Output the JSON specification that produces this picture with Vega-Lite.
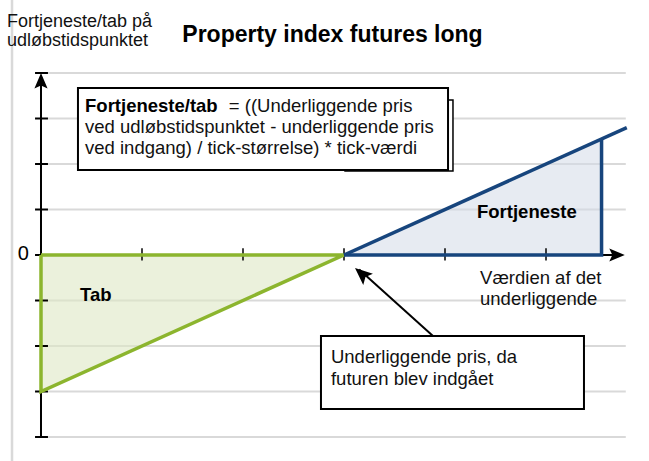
{
  "$schema": "https://vega.github.io/schema/vega-lite/v6.json",
  "width": 649,
  "height": 461,
  "padding": 0,
  "autosize": {"type": "none"},
  "background": "white",
  "config": {"view": {"stroke": null}, "text": {"font": "Liberation Sans"}},
  "datasets": {
    "border": [{"x": -0.287, "y": -4.6, "y2": 5.7}],
    "grid": [
      {"y": 4, "x": 0.07, "x2": 5.79}, {"y": 3, "x": 0.07, "x2": 5.79},
      {"y": 2, "x": 0.07, "x2": 5.79}, {"y": 1, "x": 0.07, "x2": 5.79},
      {"y": -1, "x": 0.07, "x2": 5.79}, {"y": -2, "x": 0.07, "x2": 5.79},
      {"y": -3, "x": 0.07, "x2": 5.79}, {"y": -4, "x": 0.07, "x2": 5.79}
    ],
    "loss": [{"x": 0, "y": -3, "y2": 0}, {"x": 3, "y": 0, "y2": 0}],
    "profit": [{"x": 3, "y": 0, "y2": 0}, {"x": 5.55, "y": 2.55, "y2": 0}],
    "axes": [
      {"x": 0, "x2": 0, "y": -4, "y2": 3.85},
      {"x": 0, "x2": 5.72, "y": 0, "y2": 0}
    ],
    "yticks": [
      {"y": 4, "x": -0.059, "x2": 0.069}, {"y": 3, "x": -0.059, "x2": 0.069},
      {"y": 2, "x": -0.059, "x2": 0.069}, {"y": 1, "x": -0.059, "x2": 0.069},
      {"y": 0, "x": -0.059, "x2": 0.0}, {"y": -1, "x": -0.059, "x2": 0.069},
      {"y": -2, "x": -0.059, "x2": 0.069}, {"y": -3, "x": -0.059, "x2": 0.069},
      {"y": -4, "x": -0.059, "x2": 0.069}
    ],
    "xticks": [
      {"x": 1, "y": -0.12, "y2": 0.15}, {"x": 2, "y": -0.12, "y2": 0.15},
      {"x": 3, "y": -0.12, "y2": 0.15}, {"x": 4, "y": -0.12, "y2": 0.15},
      {"x": 5, "y": -0.12, "y2": 0.15}
    ],
    "lossEdge": [
      {"o": 1, "x": 0, "y": 0}, {"o": 2, "x": 3, "y": 0},
      {"o": 3, "x": 0, "y": -3}, {"o": 4, "x": 0, "y": 0}
    ],
    "profitEdge": [
      {"seg": "a", "o": 1, "x": 3, "y": 0}, {"seg": "a", "o": 2, "x": 5.55, "y": 0},
      {"seg": "a", "o": 3, "x": 5.55, "y": 2.55},
      {"seg": "b", "o": 1, "x": 3, "y": 0}, {"seg": "b", "o": 2, "x": 5.8, "y": 2.8}
    ],
    "pointer": [{"x": 3.881, "y": -1.78, "x2": 3.15, "y2": -0.32}],
    "arrowUp": [{"x": 0, "y": 4}],
    "arrowRight": [{"x": 5.78, "y": 0}],
    "arrowPointer": [{"x": 3.109, "y": -0.286}],
    "backBox": [{"x": 3.01, "x2": 4.079, "y": 3.407, "y2": 1.846}],
    "formulaBox": [{"x": 0.366, "x2": 4.03, "y": 3.67, "y2": 1.868}],
    "calloutBox": [{"x": 2.772, "x2": 5.376, "y": -1.78, "y2": -3.385}],
    "title": [{"x": 2.886, "y": 4.681, "text": "Property index futures long"}],
    "ylabel": [
      {"x": -0.337, "y": 5.011, "text": "Fortjeneste/tab på"},
      {"x": -0.337, "y": 4.593, "text": "udløbstidspunktet"}
    ],
    "zero": [{"x": -0.119, "y": -0.11, "text": "0"}],
    "boldText": [
      {"x": 0.436, "y": 3.143, "text": "Fortjeneste/tab"},
      {"x": 0.386, "y": -1.011, "text": "Tab"},
      {"x": 4.317, "y": 0.813, "text": "Fortjeneste"}
    ],
    "bodyText": [
      {"x": 1.86, "y": 3.143, "text": "= ((Underliggende pris"},
      {"x": 0.436, "y": 2.681, "text": "ved udløbstidspunktet - underliggende pris"},
      {"x": 0.436, "y": 2.22, "text": "ved indgang) / tick-størrelse) * tick-værdi"},
      {"x": 4.347, "y": -0.64, "text": "Værdien af det"},
      {"x": 4.347, "y": -1.1, "text": "underliggende"},
      {"x": 2.871, "y": -2.374, "text": "Underliggende pris, da"},
      {"x": 2.871, "y": -2.857, "text": "futuren blev indgået"}
    ]
  },
  "encoding": {
    "x": {"field": "x", "type": "quantitative", "axis": null,
          "scale": {"domain": [-0.40594, 6.0198], "nice": false, "zero": false}},
    "y": {"field": "y", "type": "quantitative", "axis": null,
          "scale": {"domain": [-4.5275, 5.6044], "nice": false, "zero": false}}
  },
  "layer": [
    {"data": {"name": "border"}, "mark": {"type": "rule", "color": "#d9d9d9", "strokeWidth": 2.5},
     "encoding": {"y2": {"field": "y2"}}},
    {"data": {"name": "grid"}, "mark": {"type": "rule", "color": "#d9d9d9", "strokeWidth": 2},
     "encoding": {"x2": {"field": "x2"}}},
    {"data": {"name": "loss"}, "mark": {"type": "area", "color": "#dde8c4", "opacity": 0.6},
     "encoding": {"y2": {"field": "y2"}}},
    {"data": {"name": "profit"}, "mark": {"type": "area", "color": "#d3dbe8", "opacity": 0.55},
     "encoding": {"y2": {"field": "y2"}}},
    {"data": {"name": "axes"}, "mark": {"type": "rule", "color": "black", "strokeWidth": 2},
     "encoding": {"x2": {"field": "x2"}, "y2": {"field": "y2"}}},
    {"data": {"name": "yticks"}, "mark": {"type": "rule", "color": "black", "strokeWidth": 2},
     "encoding": {"x2": {"field": "x2"}}},
    {"data": {"name": "xticks"}, "mark": {"type": "rule", "color": "black", "strokeWidth": 1.5},
     "encoding": {"y2": {"field": "y2"}}},
    {"data": {"name": "lossEdge"}, "mark": {"type": "line", "color": "#8cb52e", "strokeWidth": 3.5, "strokeJoin": "miter"},
     "encoding": {"order": {"field": "o"}}},
    {"data": {"name": "profitEdge"}, "mark": {"type": "line", "color": "#17457d", "strokeWidth": 3.5, "strokeJoin": "miter"},
     "encoding": {"order": {"field": "o"}, "detail": {"field": "seg"}}},
    {"data": {"name": "pointer"}, "mark": {"type": "rule", "color": "black", "strokeWidth": 2},
     "encoding": {"x2": {"field": "x2"}, "y2": {"field": "y2"}}},
    {"data": {"name": "arrowUp"}, "mark": {"type": "point", "filled": true, "color": "black", "opacity": 1, "size": 240, "angle": 0,
      "shape": "M0,0L0.85,2L0,1.6L-0.85,2Z"}, "encoding": {}},
    {"data": {"name": "arrowRight"}, "mark": {"type": "point", "filled": true, "color": "black", "opacity": 1, "size": 240, "angle": 90,
      "shape": "M0,0L0.85,2L0,1.6L-0.85,2Z"}, "encoding": {}},
    {"data": {"name": "arrowPointer"}, "mark": {"type": "point", "filled": true, "color": "black", "opacity": 1, "size": 300, "angle": 311,
      "shape": "M0,0L0.85,2L0,1.6L-0.85,2Z"}, "encoding": {}},
    {"data": {"name": "backBox"}, "mark": {"type": "rect", "fill": "white", "stroke": "black", "strokeWidth": 1.5},
     "encoding": {"x2": {"field": "x2"}, "y2": {"field": "y2"}}},
    {"data": {"name": "formulaBox"}, "mark": {"type": "rect", "fill": "white", "stroke": "black", "strokeWidth": 2},
     "encoding": {"x2": {"field": "x2"}, "y2": {"field": "y2"}}},
    {"data": {"name": "calloutBox"}, "mark": {"type": "rect", "fill": "white", "stroke": "black", "strokeWidth": 2},
     "encoding": {"x2": {"field": "x2"}, "y2": {"field": "y2"}}},
    {"data": {"name": "title"}, "mark": {"type": "text", "fontSize": 23, "fontWeight": "bold", "align": "center", "baseline": "alphabetic", "color": "black"},
     "encoding": {"text": {"field": "text"}}},
    {"data": {"name": "ylabel"}, "mark": {"type": "text", "fontSize": 18, "align": "left", "baseline": "alphabetic", "color": "#111"},
     "encoding": {"text": {"field": "text"}}},
    {"data": {"name": "zero"}, "mark": {"type": "text", "fontSize": 20, "align": "right", "baseline": "alphabetic", "color": "black"},
     "encoding": {"text": {"field": "text"}}},
    {"data": {"name": "boldText"}, "mark": {"type": "text", "fontSize": 18.5, "fontWeight": "bold", "align": "left", "baseline": "alphabetic", "color": "black"},
     "encoding": {"text": {"field": "text"}}},
    {"data": {"name": "bodyText"}, "mark": {"type": "text", "fontSize": 18.5, "align": "left", "baseline": "alphabetic", "color": "#111"},
     "encoding": {"text": {"field": "text"}}}
  ]
}
